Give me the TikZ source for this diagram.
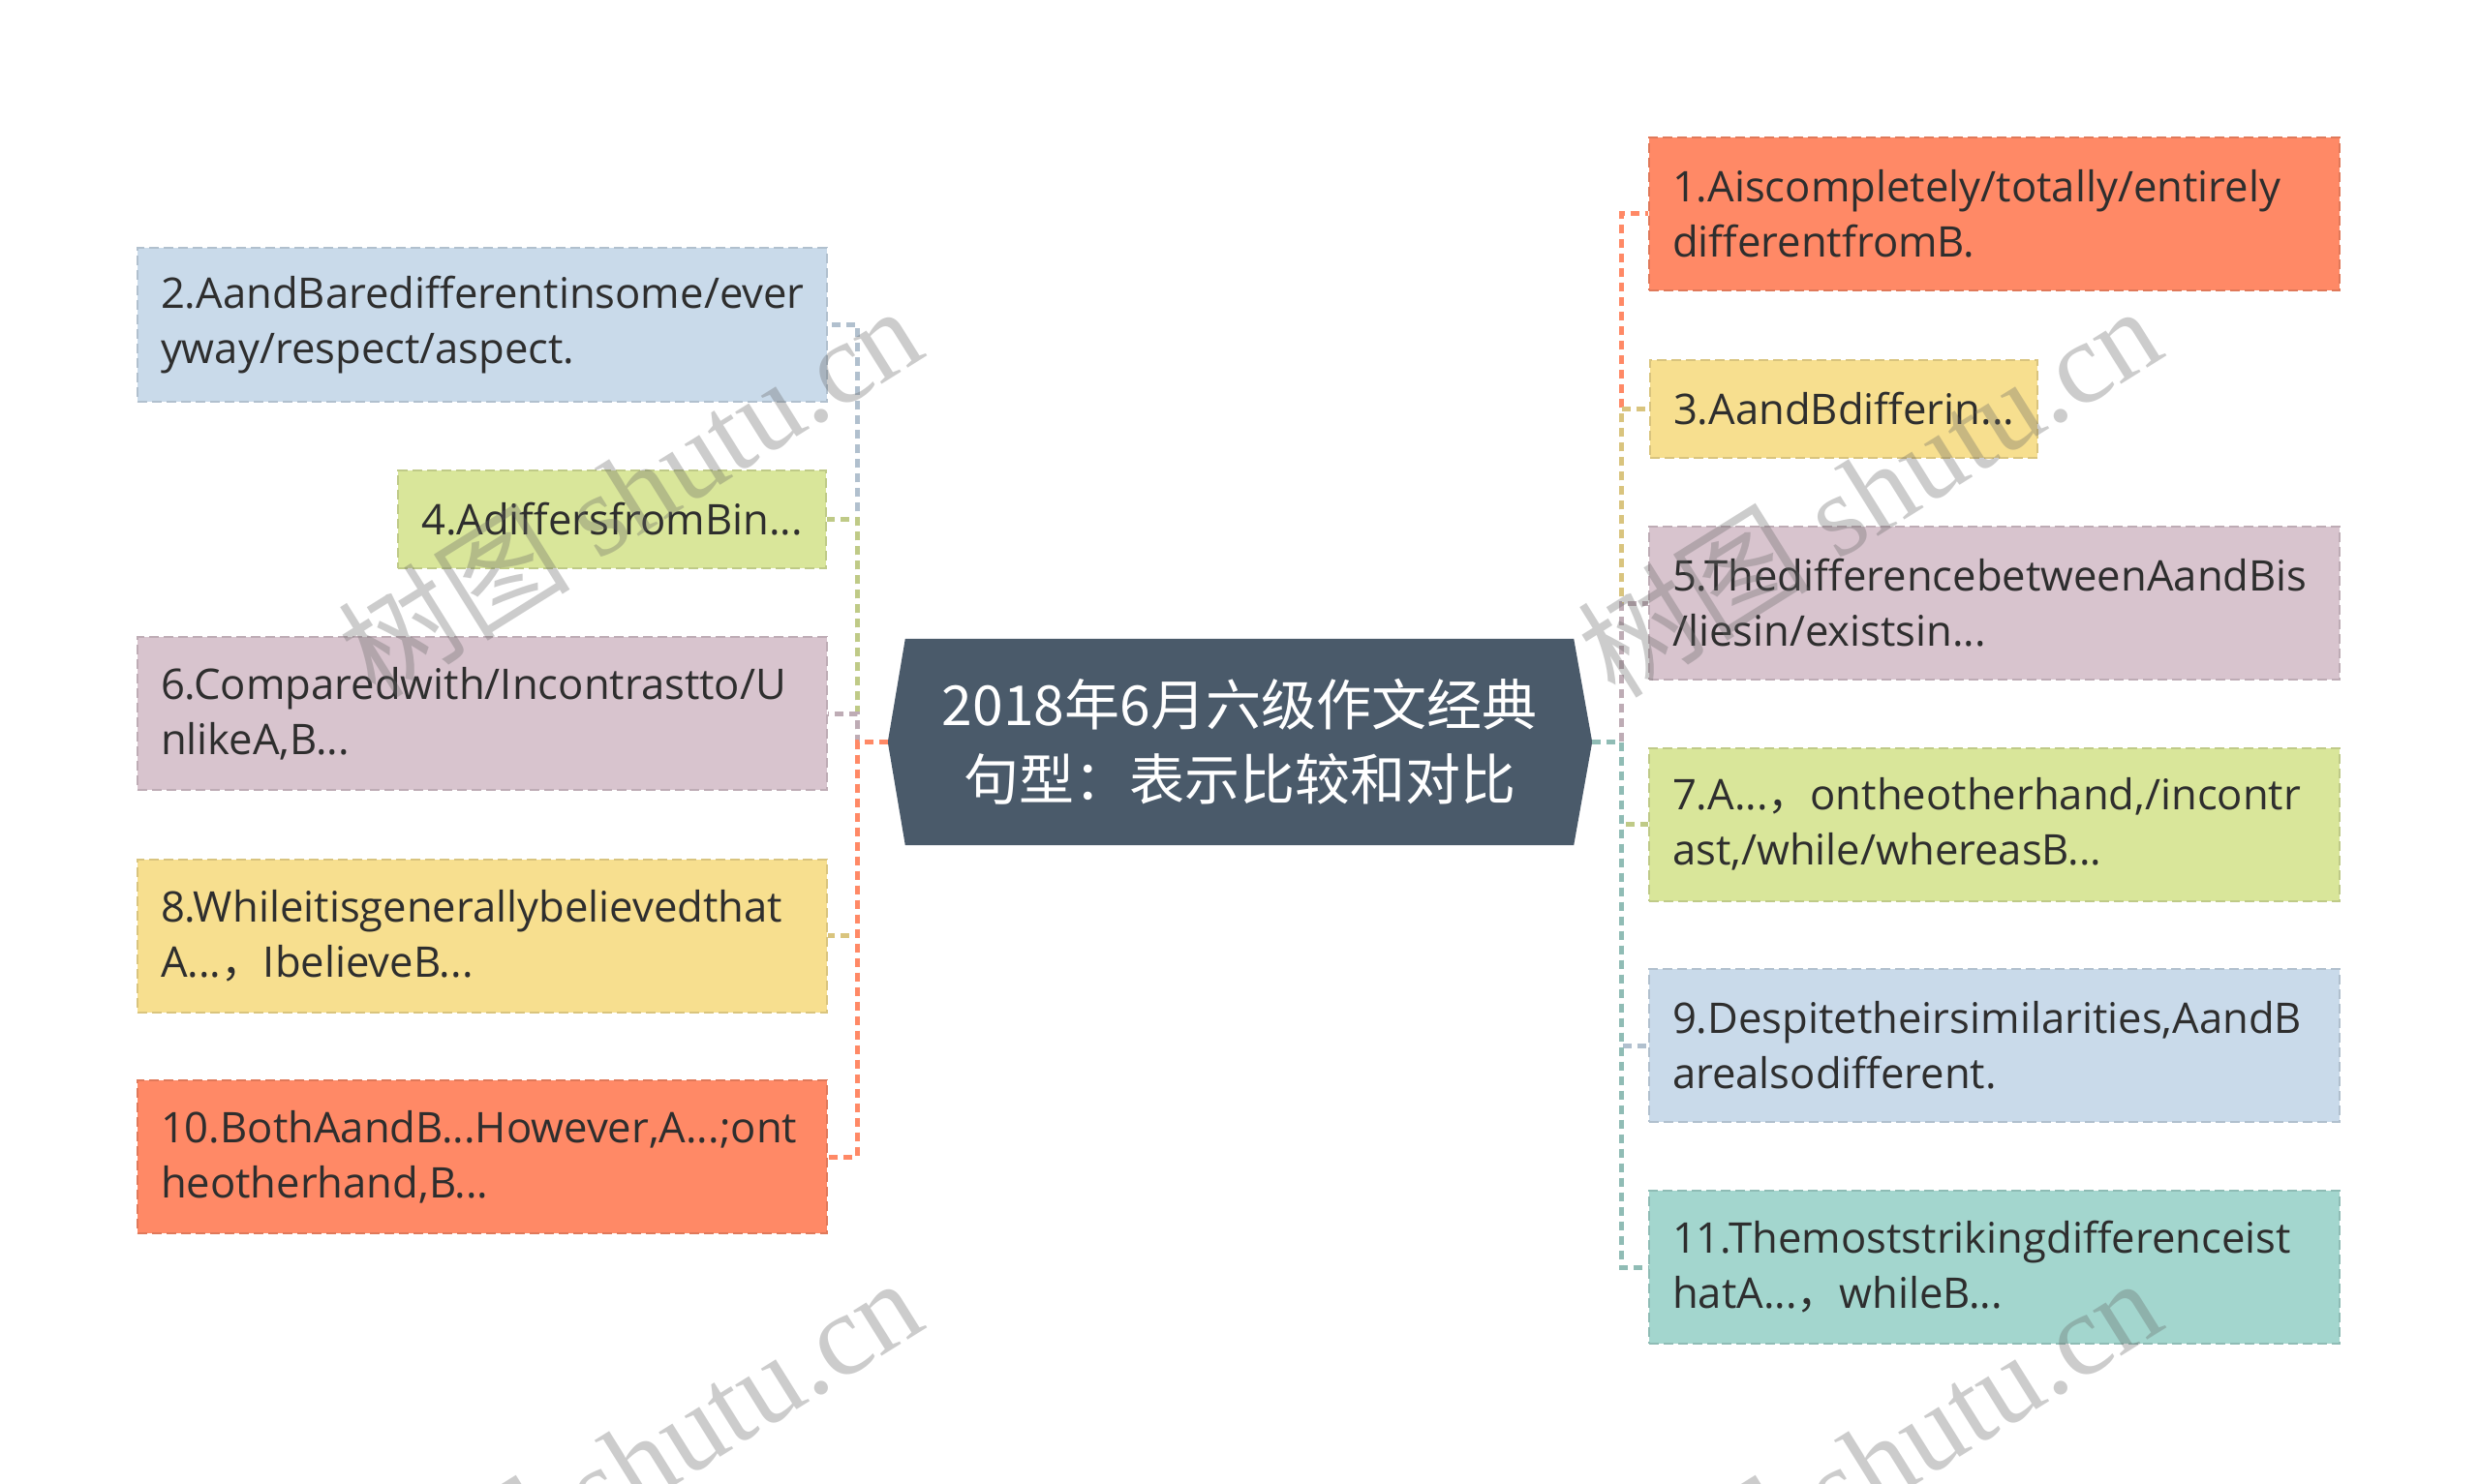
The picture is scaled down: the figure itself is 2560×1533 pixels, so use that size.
\documentclass[tikz,border=0pt]{standalone}
\usepackage{fontspec}
\setmainfont{Open Sans}
\newfontfamily\cjk{Noto Sans CJK SC}
\newfontfamily\wmserif{Liberation Serif}
\usetikzlibrary{backgrounds,calc}
\definecolor{cOr}{HTML}{FF8966}
\definecolor{cBl}{HTML}{C9DAEA}
\definecolor{cYe}{HTML}{F7DF8F}
\definecolor{cGr}{HTML}{D9E69A}
\definecolor{cPu}{HTML}{D8C4CE}
\definecolor{cTe}{HTML}{A3D6CE}
\definecolor{ctr}{HTML}{4A5A6A}
\definecolor{txt}{HTML}{2E2E2E}
\newcommand{\fc}{{\cjk ，}}
\begin{document}
\begin{tikzpicture}[x=1pt,y=-1pt,
  box/.style={rectangle, inner xsep=24pt, inner ysep=0pt, align=left, text=txt,
    font=\fontsize{43.6}{57}\selectfont, line width=2pt, dash pattern=on 10pt off 5pt},
  wide/.style={text width=665pt, minimum height=158pt},
  one/.style={minimum height=101pt},
  conn/.style={line width=5pt, dash pattern=on 9pt off 6pt},
  wm/.style={font=\wmserif\fontsize{120}{120}\selectfont, text=black!60, text opacity=0.33, rotate=32, inner sep=0pt}]
\begin{scope}[on background layer]
\fill[white] (0,0) rectangle (2560,1533);
\end{scope}
\useasboundingbox (0,0) rectangle (2560,1533);

% center
\node[text=white, font=\cjk\fontsize{57}{77}\selectfont, align=center, minimum width=690pt, minimum height=213pt, inner sep=0pt] (c) at (1280,766.5) {2018年6月六级作文经典\\句型：表示比较和对比};
\begin{scope}[on background layer]
\fill[ctr] (c.north west) -- (c.north east) -- ([xshift=19pt]c.east) -- (c.south east) -- (c.south west) -- ([xshift=-18pt]c.west) -- cycle;
\end{scope}
\coordinate (tL) at ([xshift=-18pt]c.west);
\coordinate (tR) at ([xshift=19pt]c.east);
\coordinate (busL) at (885,766.5);
\coordinate (busR) at (1674,766.5);

% right boxes
\node[box, wide, fill=cOr, draw=cOr!88!black] (b1) at (2059.5,221) {1.Aiscompletely/totally/entirely\\differentfromB.};
\node[box, one, fill=cYe, draw=cYe!88!black, anchor=west] (b3) at (1703,422) {3.AandBdifferin...};
\node[box, wide, fill=cPu, draw=cPu!88!black] (b5) at (2059.5,623) {5.ThedifferencebetweenAandBis\\/liesin/existsin...};
\node[box, wide, fill=cGr, draw=cGr!88!black] (b7) at (2059.5,851.5) {7.A...\fc ontheotherhand,/incontr\\ast,/while/whereasB...};
\node[box, wide, fill=cBl, draw=cBl!88!black] (b9) at (2059.5,1080) {9.Despitetheirsimilarities,AandB\\arealsodifferent.};
\node[box, wide, fill=cTe, draw=cTe!88!black] (b11) at (2059.5,1309) {11.Themoststrikingdifferenceist\\hatA...\fc whileB...};

% left boxes
\node[box, wide, text width=664pt, fill=cBl, draw=cBl!88!black] (b2) at (498,335.5) {2.AandBaredifferentinsome/ever\\yway/respect/aspect.};
\node[box, one, fill=cGr, draw=cGr!88!black, anchor=east] (b4) at (854,536.5) {4.AdiffersfromBin...};
\node[box, wide, text width=664pt, fill=cPu, draw=cPu!88!black] (b6) at (498,737) {6.Comparedwith/Incontrastto/U\\nlikeA,B...};
\node[box, wide, text width=664pt, fill=cYe, draw=cYe!88!black] (b8) at (498,966.5) {8.Whileitisgenerallybelievedthat\\A...\fc IbelieveB...};
\node[box, wide, text width=664pt, fill=cOr, draw=cOr!88!black] (b10) at (498,1195) {10.BothAandB...However,A...;ont\\heotherhand,B...};

% connectors left
\draw[conn, cBl!88!black] (tL) -- (busL) |- (b2.east);
\draw[conn, cGr!88!black] (tL) -- (busL) |- (b4.east);
\draw[conn, cPu!88!black] (tL) -- (busL) |- (b6.east);
\draw[conn, cYe!88!black] (tL) -- (busL) |- (b8.east);
\draw[conn, cOr] (tL) -- (busL) |- (b10.east);
% connectors right
\draw[conn, cOr] (tR) -- (busR) |- (b1.west);
\draw[conn, cYe!88!black] (tR) -- (busR) |- (b3.west);
\draw[conn, cPu!88!black] (tR) -- (busR) |- (b5.west);
\draw[conn, cGr!88!black] (tR) -- (busR) |- (b7.west);
\draw[conn, cBl!88!black] (tR) -- (busR) |- (b9.west);
\draw[conn, cTe!88!black] (tR) -- (busR) |- (b11.west);

% watermarks
\node[wm] (w1) at (650,506) {{\cjk 树图} shutu.cn};
\node[wm] (w2) at (1930,506) {{\cjk 树图} shutu.cn};
\node[wm] (w3) at (650,1510) {{\cjk 树图} shutu.cn};
\node[wm] (w4) at (1930,1510) {{\cjk 树图} shutu.cn};
\end{tikzpicture}
\end{document}
